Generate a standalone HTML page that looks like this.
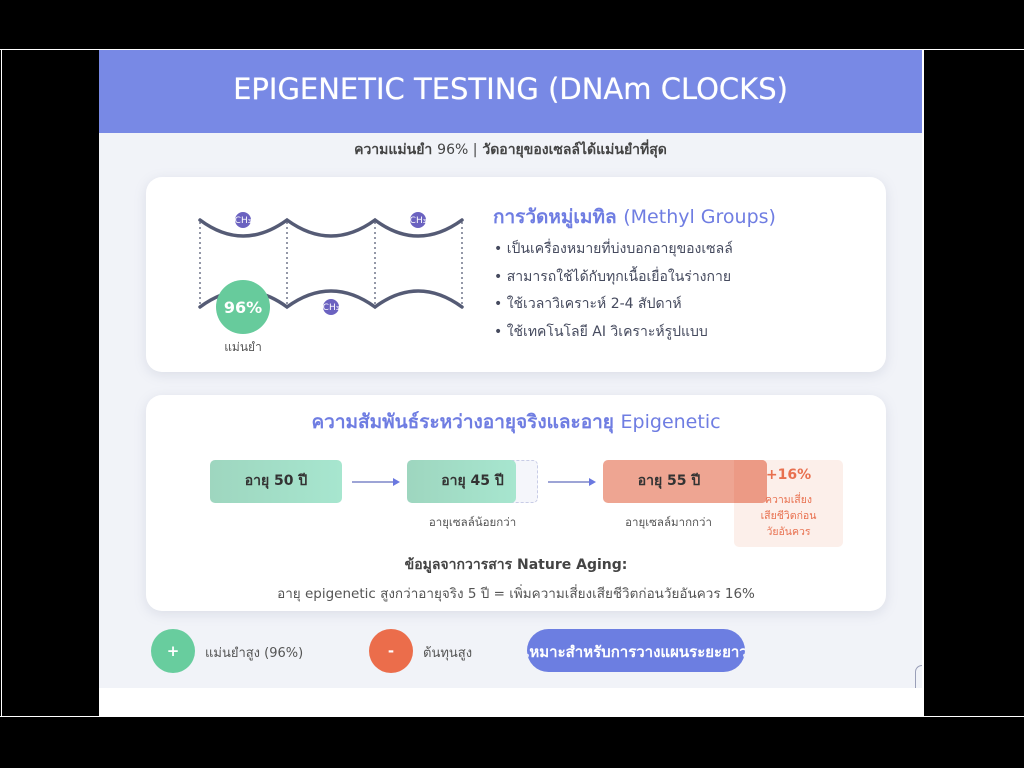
<!DOCTYPE html>
<html><head><meta charset="utf-8">
<style>
*{margin:0;padding:0;box-sizing:border-box}
body{width:1024px;height:768px;background:#000;position:relative;overflow:hidden;font-family:"DejaVu Sans","Liberation Sans","Noto Sans CJK SC",sans-serif;color:#3c4358}
.a{position:absolute}
.c{text-align:center;white-space:nowrap}
.card{position:absolute;background:#fff;border-radius:16px;box-shadow:0 3px 12px rgba(120,130,160,.18)}
</style></head><body>
<div class="a" style="left:0;top:49px;width:1024px;height:1px;background:#fff"></div>
<div class="a" style="left:1px;top:49px;width:1px;height:668px;background:#fff"></div>
<div class="a" style="left:0;top:716px;width:1024px;height:1px;background:#fff"></div>
<div class="a" style="left:99px;top:50px;width:825px;height:666px;background:#fff"></div>
<div class="a" style="left:99px;top:133px;width:823px;height:555px;background:#f1f3f8"></div>
<div class="a" style="left:99px;top:50px;width:823px;height:83px;background:#7889e5"></div>
<div class="a c" style="left:99px;width:823px;top:69px;font-size:29px;color:#fff;line-height:40px;text-shadow:0 0 0.6px #fff">EPIGENETIC TESTING (DNAm CLOCKS)</div>
<div class="a c" style="left:99px;width:823px;top:140px;font-size:14px;color:#444;font-weight:bold;line-height:20px">ความแม่นยำ <span style="font-weight:normal">96% |</span> วัดอายุของเซลล์ได้แม่นยำที่สุด</div>

<div class="card" style="left:146px;top:177px;width:740px;height:195px"></div>
<div class="card" style="left:146px;top:395px;width:740px;height:216px"></div>
<svg class="a" style="left:0;top:0" width="1024" height="768">
<g stroke="#5a6078" stroke-width="1.3" stroke-dasharray="2,3">
<line x1="200" y1="222" x2="200" y2="305"/><line x1="287" y1="222" x2="287" y2="305"/><line x1="375" y1="222" x2="375" y2="305"/><line x1="462" y1="222" x2="462" y2="305"/></g>
<g fill="none" stroke="#555b75" stroke-width="3.5" stroke-linecap="round">
<path d="M200 220 Q243 252 287 220 Q331 252 375 220 Q418 252 462 220"/>
<path d="M200 307 Q243 275 287 307 Q331 275 375 307 Q418 275 462 307"/></g>
<g fill="#6b62c0"><circle cx="243" cy="220" r="8"/><circle cx="418" cy="220" r="8"/><circle cx="331" cy="307" r="8"/></g>
<g fill="#fff" font-size="9" text-anchor="middle" font-family="DejaVu Sans"><text x="243" y="223">CH₃</text><text x="418" y="223">CH₃</text><text x="331" y="310">CH₃</text></g>
<circle cx="243" cy="307" r="27" fill="#67cb9c"/>
<text x="243" y="313" fill="#fff" font-size="16" font-weight="bold" text-anchor="middle" font-family="DejaVu Sans">96%</text>
<text x="243" y="351" fill="#555" font-size="12" text-anchor="middle" font-family="DejaVu Sans">แม่นยำ</text>
<g stroke="#7d86c8" stroke-width="1.5"><line x1="352" y1="482" x2="394" y2="482"/><line x1="548" y1="482" x2="590" y2="482"/></g>
<g fill="#6a78e0"><path d="M400 482 L393 478 L393 486Z"/><path d="M596 482 L589 478 L589 486Z"/></g>
</svg>
<div class="a" style="left:493px;top:202px;font-size:19px;color:#6f7de2;font-weight:bold;white-space:nowrap">การวัดหมู่เมทิล <span style="font-weight:normal">(Methyl Groups)</span></div>
<div class="a" style="left:494px;top:236px;font-size:14px;line-height:27.5px;color:#454a5e;white-space:nowrap">• เป็นเครื่องหมายที่บ่งบอกอายุของเซลล์<br>• สามารถใช้ได้กับทุกเนื้อเยื่อในร่างกาย<br>• ใช้เวลาวิเคราะห์ 2-4 สัปดาห์<br>• ใช้เทคโนโลยี AI วิเคราะห์รูปแบบ</div>

<div class="a c" style="left:146px;width:740px;top:407px;font-size:19px;color:#6f7de2;font-weight:bold">ความสัมพันธ์ระหว่างอายุจริงและอายุ <span style="font-weight:normal">Epigenetic</span></div>
<div class="a c" style="left:210px;top:460px;width:132px;height:43px;border-radius:5px;background:linear-gradient(90deg,#9ed6bf,#a7e6cf);line-height:43px;font-size:14px;font-weight:bold;color:#333">อายุ 50 ปี</div>
<div class="a" style="left:407px;top:460px;width:131px;height:43px;border-radius:5px;border:1px dashed #c8cce6;background:#f5f6fb"></div>
<div class="a c" style="left:407px;top:460px;width:109px;height:43px;border-radius:5px;background:linear-gradient(90deg,#9ed6bf,#a7e6cf);line-height:43px;font-size:14px;font-weight:bold;color:#333;padding-left:22px">อายุ 45 ปี</div>
<div class="a c" style="left:407px;width:131px;top:514px;font-size:11.5px;color:#555">อายุเซลล์น้อยกว่า</div>
<div class="a" style="left:734px;top:460px;width:109px;height:87px;border-radius:5px;background:#fcefea"></div>
<div class="a c" style="left:603px;top:460px;width:164px;height:43px;border-radius:5px;background:#eea592;line-height:43px;font-size:14px;font-weight:bold;color:#333;padding-right:32px">อายุ 55 ปี</div>
<div class="a" style="left:734px;top:460px;width:33px;height:43px;background:#ec9a85;border-radius:0 5px 5px 0"></div>
<div class="a c" style="left:603px;width:131px;top:514px;font-size:11.5px;color:#555">อายุเซลล์มากกว่า</div>
<div class="a c" style="left:734px;width:109px;top:467px;font-size:14px;font-weight:bold;color:#e8704f">+16%</div>
<div class="a c" style="left:734px;width:109px;top:492px;font-size:10.5px;line-height:16px;color:#e8704f">ความเสี่ยง<br>เสียชีวิตก่อน<br>วัยอันควร</div>
<div class="a c" style="left:146px;width:740px;top:554px;font-size:14px;font-weight:bold;color:#444">ข้อมูลจากวารสาร Nature Aging:</div>
<div class="a c" style="left:146px;width:740px;top:582px;font-size:13.5px;color:#555">อายุ epigenetic สูงกว่าอายุจริง 5 ปี = เพิ่มความเสี่ยงเสียชีวิตก่อนวัยอันควร 16%</div>

<div class="a c" style="left:151px;top:629px;width:44px;height:44px;border-radius:50%;background:#68cd9e;color:#fff;font-weight:bold;line-height:44px;font-size:15px">+</div>
<div class="a" style="left:205px;top:642px;font-size:13px;color:#555;white-space:nowrap">แม่นยำสูง (96%)</div>
<div class="a c" style="left:369px;top:629px;width:44px;height:44px;border-radius:50%;background:#eb6d4b;color:#fff;font-weight:bold;line-height:44px;font-size:15px">-</div>
<div class="a" style="left:423px;top:642px;font-size:13px;color:#555;white-space:nowrap">ต้นทุนสูง</div>
<div class="a" style="left:527px;top:629px;width:218px;height:43px;border-radius:22px;background:#6c7ee1;overflow:hidden"><div class="c" style="position:absolute;left:50%;transform:translateX(-50%);top:11px;font-size:15px;font-weight:bold;color:#fff">เหมาะสำหรับการวางแผนระยะยาว</div></div>
<div class="a" style="left:915px;top:665px;width:7px;height:23px;border:1.5px solid #9a9fb8;border-radius:7px 0 0 0;border-right:none;border-bottom:none"></div>
<div class="a" style="left:922px;top:50px;width:2px;height:666px;background:#fff"></div>
</body></html>
